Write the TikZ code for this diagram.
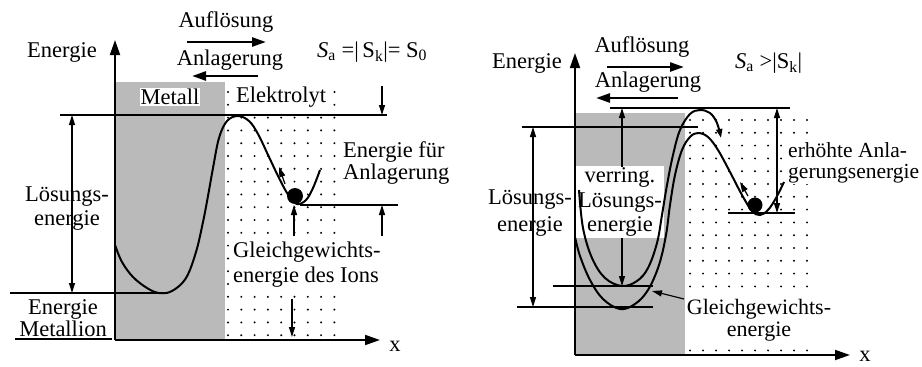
\documentclass[tikz,border=0pt]{standalone}
\usepackage{fontspec}
\setmainfont{Liberation Serif}
\usetikzlibrary{arrows.meta}
\begin{document}
\begin{tikzpicture}[x=1pt,y=-1pt,
  lbl/.style={inner sep=0pt, font=\fontsize{22.5}{24}\selectfont},
  wlbl/.style={lbl, fill=white, inner sep=1pt},
  thinline/.style={line width=1.1pt},
  curveline/.style={line width=2pt},
  axisarrow/.style={line width=1.8pt, -{Triangle[length=15pt,width=10pt]}},
  bigarrow/.style={line width=2.6pt, -{Triangle[length=14pt,width=9pt]}},
  smallarrow/.style={line width=1.2pt, -{Triangle[length=10pt,width=6pt]}},
  dblarrow/.style={line width=1.2pt, {Triangle[length=10pt,width=6pt]}-{Triangle[length=10pt,width=6pt]}},
  metal/.style={fill=black!27},
  dotmark/.style={fill=black}]
\useasboundingbox (0,0) rectangle (922,367);

% ================= LEFT DIAGRAM =================
\fill[metal] (115,82) rectangle (225,340);
\foreach \i in {0,...,8} \foreach \j in {0,...,19}
  \fill[dotmark] (228+13.3*\i, 92+12.8*\j) circle (1.1);

\coordinate (LO) at (115,340);
\coordinate (LY) at (115,40);
\coordinate (LX) at (380,340);
\draw[axisarrow] (LO) -- (LY);
\draw[axisarrow] (LO) -- (LX);
\node[lbl, anchor=base] (lxl) at (395,351) {x};
\node[lbl] (lEn) at (62,52) {Energie};

\node[lbl] (lAuf) at (226,22) {Auflösung};
\coordinate (lA1) at (187,42); \coordinate (lA2) at (266,42);
\draw[bigarrow] (lA1) -- (lA2);
\node[lbl] (lAnl) at (230,60) {Anlagerung};
\coordinate (lB1) at (258,76); \coordinate (lB2) at (192,76);
\draw[bigarrow] (lB1) -- (lB2);
\node[lbl, anchor=west] (lS) at (317,52) {\textit{S}\textsubscript{a} =|\,S\textsubscript{k}|= S\textsubscript{0}};

\node[wlbl] (lMet) at (170,97) {Metall};
\node[wlbl] (lElek) at (281,97) {Elektrolyt};

% levels
\coordinate (lT1) at (60,115); \coordinate (lT2) at (387,115);
\draw[thinline] (lT1) -- (lT2);
\coordinate (lM1) at (10,293); \coordinate (lM2) at (168,293);
\draw[thinline] (lM1) -- (lM2);
\coordinate (lG1) at (300,205); \coordinate (lG2) at (398,205);
\draw[thinline] (lG1) -- (lG2);
\coordinate (lU1) at (15,339); \coordinate (lU2) at (112,339);
\draw[thinline] (lU1) -- (lU2);

% Loesungsenergie
\coordinate (lL1) at (72,115); \coordinate (lL2) at (72,293);
\draw[dblarrow] (lL1) -- (lL2);
\node[lbl, align=center, font=\fontsize{22.5}{24}\selectfont] (lLoes) at (67,209) {Lösungs-\\energie};
\node[lbl, align=center, font=\fontsize{22.5}{22}\selectfont] (lEM) at (63,318) {Energie\\Metallion};

% curve
\draw[curveline] plot[smooth, tension=0.6] coordinates {(115,245) (122,262) (133,277) (147,288) (159,293) (172,291) (186,278) (196,252) (203,222) (208,196) (213,168) (219,138) (227,121) (238,116) (249,121) (258,134) (269,157) (280,180) (289,196) (297,204) (306,200) (313,188) (320,170)};
\node[circle, fill=black, inner sep=0pt, minimum size=16pt] (lBall) at (295,196) {};
\coordinate (lb1) at (285,184); \coordinate (lb2) at (279,167);
\draw[smallarrow] (lb1) -- (lb2);

% Energie fuer Anlagerung
\node[lbl, anchor=west, align=left, font=\fontsize{22.5}{22}\selectfont] (lEfA) at (343,163) {Energie für\\Anlagerung};
\coordinate (lR1) at (382,86); \coordinate (lR2) at (382,115);
\draw[smallarrow] (lR1) -- (lR2);
\coordinate (lR3) at (382,236); \coordinate (lR4) at (382,205);
\draw[smallarrow] (lR3) -- (lR4);

% Gleichgewichtsenergie
\coordinate (lQ1) at (294,236); \coordinate (lQ2) at (294,205);
\draw[smallarrow] (lQ1) -- (lQ2);
\node[wlbl, anchor=west, align=left, font=\fontsize{22.5}{25}\selectfont] (lGG) at (232,265) {Gleichgewichts-\\energie des Ions};
\coordinate (lQ3) at (292,299); \coordinate (lQ4) at (292,337);
\draw[smallarrow] (lQ3) -- (lQ4);

% ================= RIGHT DIAGRAM =================
\fill[metal] (575,113) rectangle (685,355);
\foreach \i in {0,...,9} \foreach \j in {0,...,18}
  \fill[dotmark] (690+13*\i, 120+12.8*\j) circle (1.1);

\coordinate (RO) at (575,355);
\coordinate (RY) at (575,53);
\coordinate (RX) at (850,355);
\draw[axisarrow] (RO) -- (RY);
\draw[axisarrow] (RO) -- (RX);
\node[lbl, anchor=base] (rxl) at (865,361) {x};
\node[lbl] (rEn) at (527,63) {Energie};

\node[lbl] (rAuf) at (642,47) {Auflösung};
\coordinate (rA1) at (607,67); \coordinate (rA2) at (684,67);
\draw[bigarrow] (rA1) -- (rA2);
\node[lbl] (rAnl) at (648,82) {Anlagerung};
\coordinate (rB1) at (678,98); \coordinate (rB2) at (596,98);
\draw[bigarrow] (rB1) -- (rB2);
\node[lbl, anchor=west] (rS) at (735,63) {\textit{S}\textsubscript{a} >|S\textsubscript{k}|};

% text box verring.
\node[lbl, fill=white, align=center, inner sep=2pt, font=\fontsize{22.5}{24.5}\selectfont] (rVer) at (620,202) {verring.\\Lösungs-\\energie};

% levels
\coordinate (rT1) at (610,108); \coordinate (rT2) at (790,108);
\draw[thinline] (rT1) -- (rT2);
\coordinate (rP1) at (522,127); \coordinate (rP2) at (698,127);
\draw[thinline] (rP1) -- (rP2);
\coordinate (rN1) at (553,286); \coordinate (rN2) at (653,286);
\draw[thinline] (rN1) -- (rN2);
\coordinate (rM1) at (517,307); \coordinate (rM2) at (653,307);
\draw[thinline] (rM1) -- (rM2);
\coordinate (rW1) at (728,213); \coordinate (rW2) at (795,213);
\draw[thinline] (rW1) -- (rW2);

% Loesungsenergie
\coordinate (rL1) at (533,127); \coordinate (rL2) at (533,307);
\draw[dblarrow] (rL1) -- (rL2);
\node[lbl, align=center, font=\fontsize{22.5}{27}\selectfont] (rLoes) at (530,213) {Lösungs-\\energie};

% verring. arrows
\coordinate (rV1) at (622,167); \coordinate (rV2) at (622,108);
\draw[smallarrow] (rV1) -- (rV2);
\coordinate (rV3) at (622,238); \coordinate (rV4) at (622,286);
\draw[smallarrow] (rV3) -- (rV4);

% curves
\draw[curveline] plot[smooth, tension=0.6] coordinates {(575,237) (580,256) (590,280) (603,299) (620,309) (635,304) (648,290) (659,265) (666,235) (670,205) (675,175) (682,150) (690,137) (698,133) (708,137) (718,150) (730,172) (742,195) (752,211) (760,215) (768,210) (776,198) (784,182)};
\draw[curveline, -{Triangle[length=9pt,width=6pt]}] plot[smooth, tension=0.6] coordinates {(579,190) (583,228) (592,258) (605,278) (622,286) (637,281) (648,268) (657,243) (662,215) (667,185) (673,155) (680,130) (690,114) (700,110) (710,113) (717,123) (721,138)};

\node[circle, fill=black, inner sep=0pt, minimum size=15pt] (rBall) at (755,205) {};
\coordinate (rb1) at (748,196); \coordinate (rb2) at (740,182);
\draw[smallarrow] (rb1) -- (rb2);

% erhoehte Anlagerungsenergie
\coordinate (rE1) at (777,108); \coordinate (rE2) at (777,213);
\draw[dblarrow] (rE1) -- (rE2);
\node[wlbl, anchor=west, align=left, font=\fontsize{21.5}{21}\selectfont] (rEA) at (787,163) {erhöhte Anla-\\gerungsenergie};

% Gleichgewichtsenergie
\node[wlbl, align=center, font=\fontsize{22}{22}\selectfont] (rGG) at (759,320) {Gleichgewichts-\\energie};
\coordinate (rG1) at (684,299); \coordinate (rG2) at (652,291);
\draw[smallarrow] (rG1) -- (rG2);
\end{tikzpicture}
\end{document}
